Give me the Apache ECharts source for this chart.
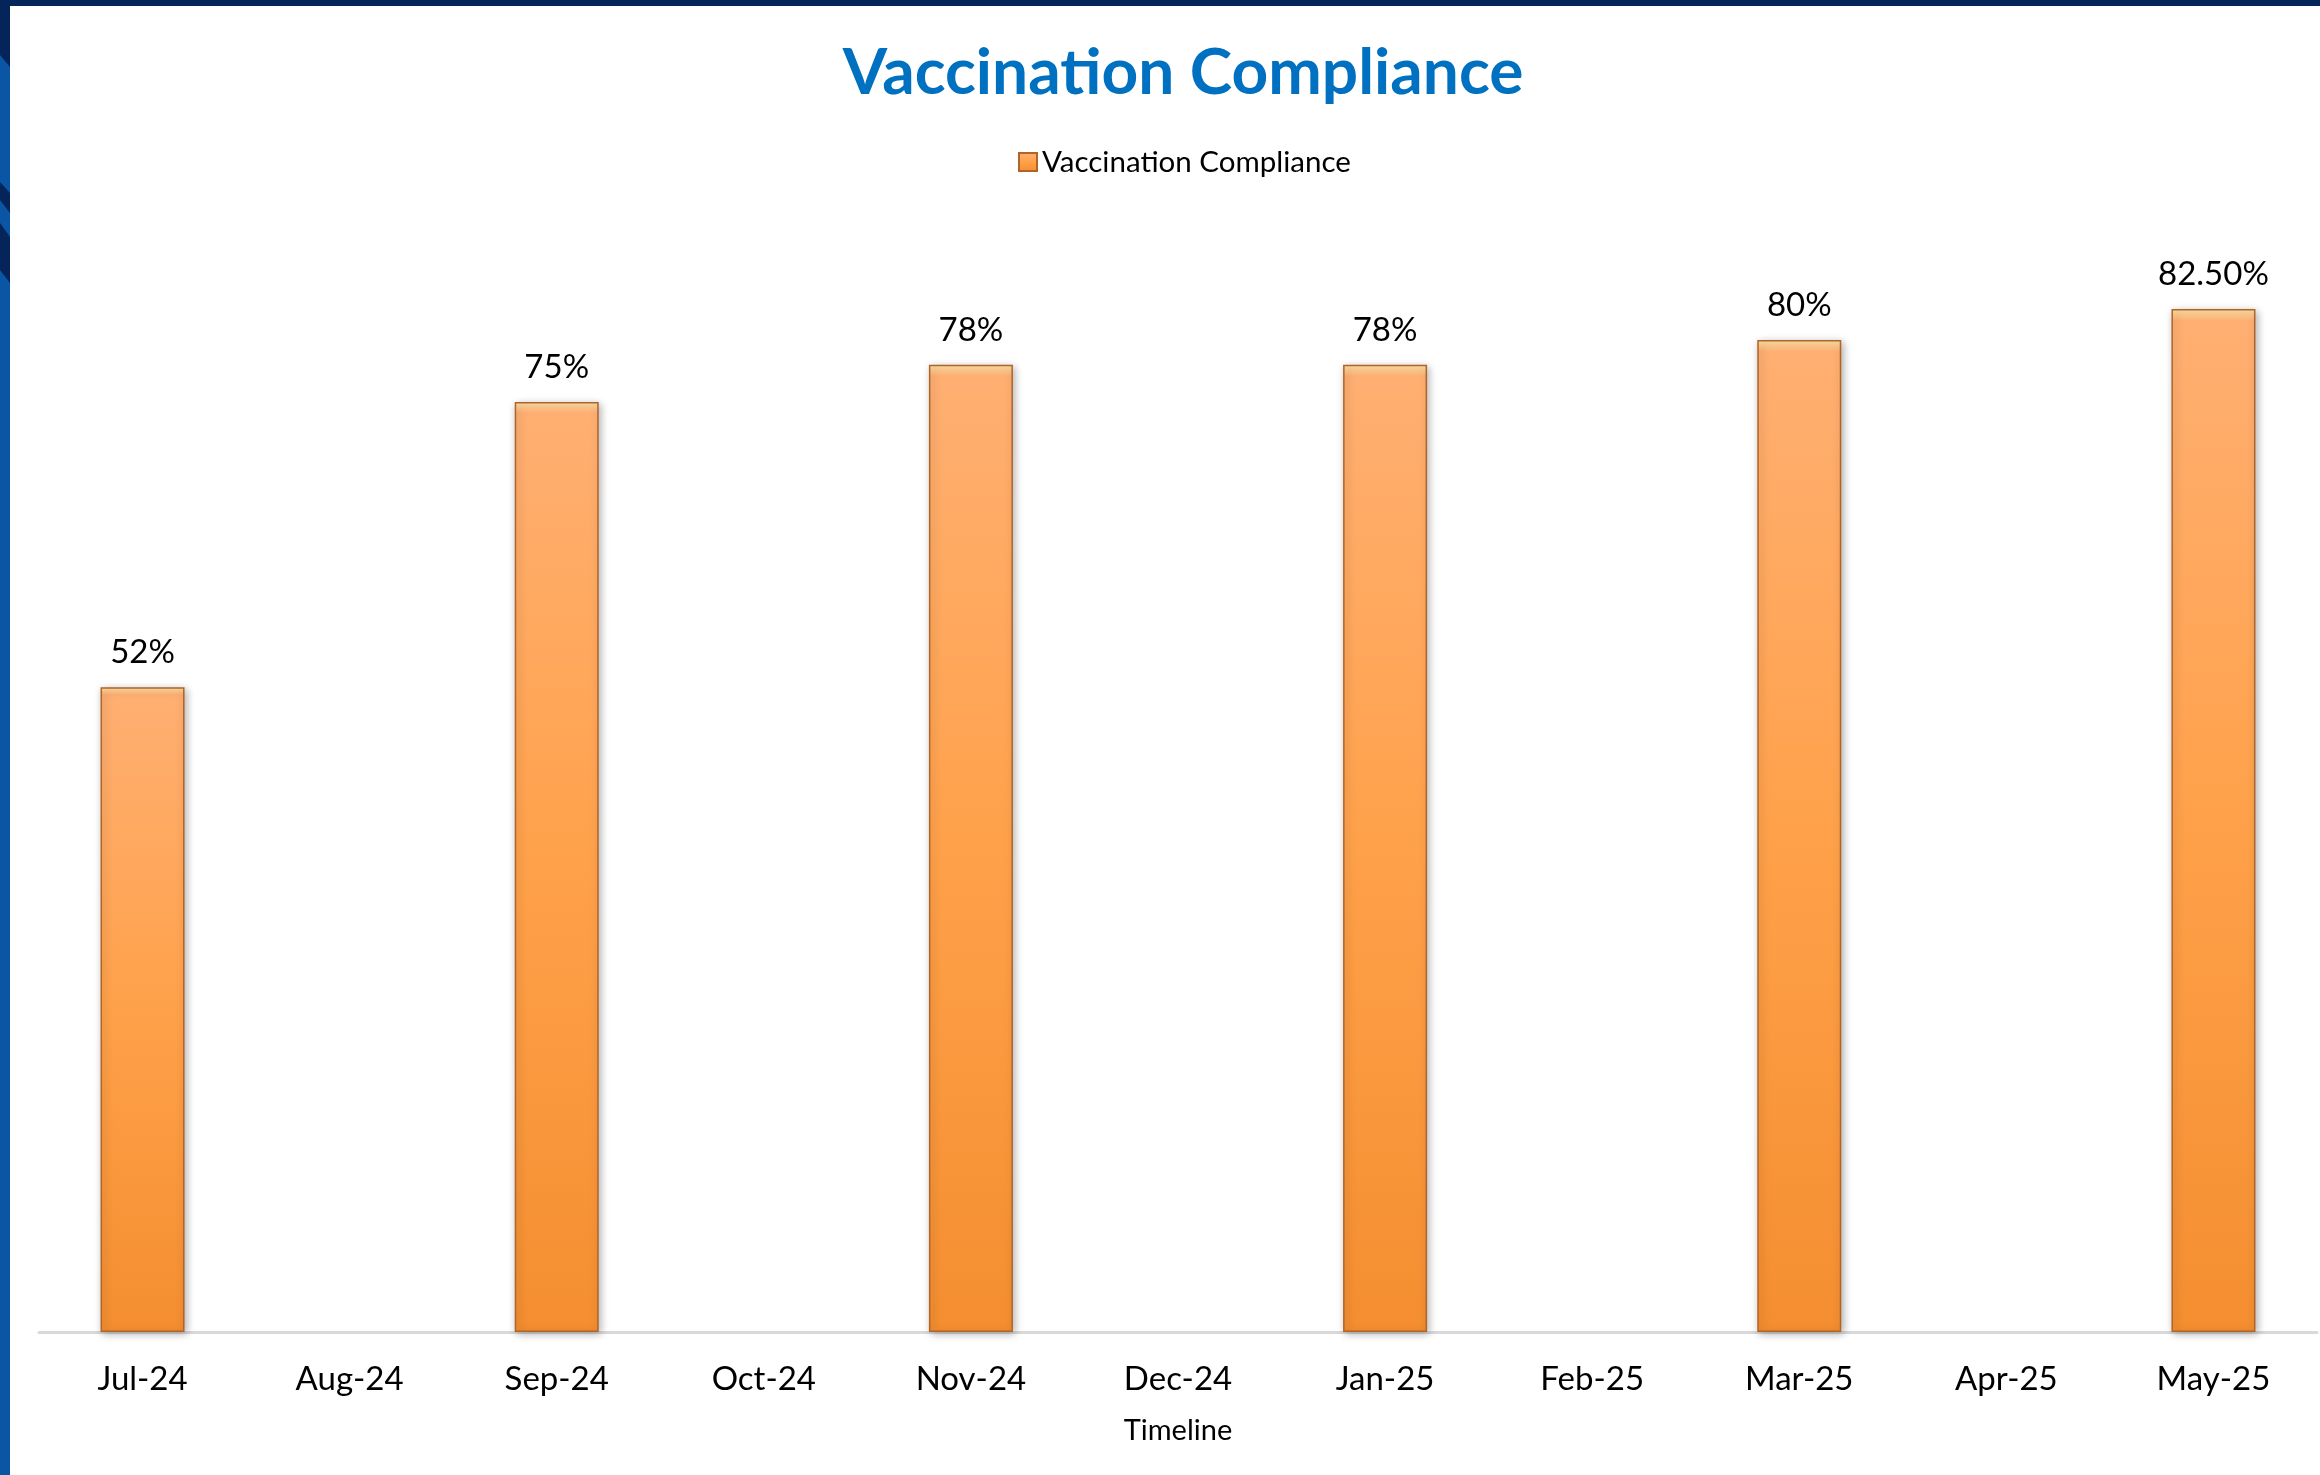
<!DOCTYPE html>
<html>
<head>
<meta charset="utf-8">
<title>Vaccination Compliance</title>
<script src="https://cdn.jsdelivr.net/npm/echarts@6/dist/echarts.min.js"></script>
<style>
  html, body { margin: 0; padding: 0; background: #fff; }
  #chart { width: 2320px; height: 1475px; }
</style>
</head>
<body>
<div id="chart"></div>
<script>
// months on the timeline
var months = ['Jul-24', 'Aug-24', 'Sep-24', 'Oct-24', 'Nov-24', 'Dec-24',
              'Jan-25', 'Feb-25', 'Mar-25', 'Apr-25', 'May-25'];
// compliance in %, empty months have no bar
var compliance = [52, null, 75, null, 78, null, 78, null, 80, null, 82.5];
var seriesName = 'Vaccination Compliance';

var fontFam = 'Lato, "Open Sans", sans-serif';

// orange bevel-ish fill
var barFill = new echarts.graphic.LinearGradient(0, 0, 0, 1, [
    { offset: 0, color: '#FFE3A6' },
    { offset: 0.012, color: '#FFAF72' },
    { offset: 0.5, color: '#FFA14A' },
    { offset: 1, color: '#F48E30' }
]);

var chartDom = document.getElementById('chart');
var myChart = echarts.init(chartDom);
var option;

option = {
    animation: false,
    title: {
        text: 'Vaccination Compliance',
        left: 1178,
        top: 36,
        textAlign: 'center',
        textStyle: {
            color: '#0070C0',
            fontFamily: fontFam,
            fontWeight: 'bold',
            fontSize: 64
        }
    },
    legend: {
        data: [seriesName],
        left: 1013,
        top: 142,
        icon: 'rect',
        itemWidth: 18,
        itemHeight: 18,
        itemGap: 8,
        textStyle: {
            fontFamily: fontFam,
            fontSize: 29.5,
            color: '#000'
        }
    },
    grid: {
        left: 39,
        right: 3,
        top: 216,
        bottom: 143,
        containLabel: false
    },
    xAxis: {
        type: 'category',
        data: months,
        name: 'Timeline',
        nameLocation: 'middle',
        nameGap: 84,
        nameTextStyle: {
            fontFamily: fontFam,
            fontSize: 29,
            color: '#000'
        },
        axisLine: { lineStyle: { color: '#D9D9D9', width: 3 } },
        axisTick: { show: false },
        axisLabel: {
            interval: 0,
            margin: 31,
            fontFamily: fontFam,
            fontSize: 33,
            color: '#000'
        }
    },
    yAxis: {
        type: 'value',
        min: 0,
        max: 90,
        show: false,
        splitLine: { show: false }
    },
    series: [
        {
            name: seriesName,
            type: 'bar',
            barWidth: 84,
            data: compliance,
            itemStyle: {
                color: barFill,
                borderColor: '#B06428',
                borderWidth: 1.5,
                shadowBlur: 8,
                shadowOffsetX: 2,
                shadowOffsetY: 2,
                shadowColor: 'rgba(0,0,0,0.3)'
            },
            label: {
                show: true,
                position: 'top',
                distance: 18,
                fontFamily: fontFam,
                fontSize: 33,
                color: '#000',
                formatter: function (p) {
                    var v = p.value;
                    return (v % 1 === 0 ? v : v.toFixed(2)) + '%';
                }
            }
        }
    ],
    // slide frame: dark top bar and blue left strip with diagonal stripes
    graphic: [
        { type: 'rect', shape: { x: 0, y: 0, width: 2320, height: 6 }, style: { fill: '#04245A' } },
        { type: 'rect', shape: { x: 0, y: 0, width: 10, height: 1475 }, style: { fill: '#0A56A5' } },
        { type: 'polygon', shape: { points: [[0, 0], [10, 0], [10, 67], [0, 55]] }, style: { fill: '#04245A' } },
        { type: 'polygon', shape: { points: [[0, 182], [10, 193], [10, 213], [0, 200]] }, style: { fill: '#04245A' } },
        { type: 'polygon', shape: { points: [[0, 223], [10, 237], [10, 283], [0, 270]] }, style: { fill: '#04245A' } }
    ]
};

option && myChart.setOption(option);
</script>
</body>
</html>
